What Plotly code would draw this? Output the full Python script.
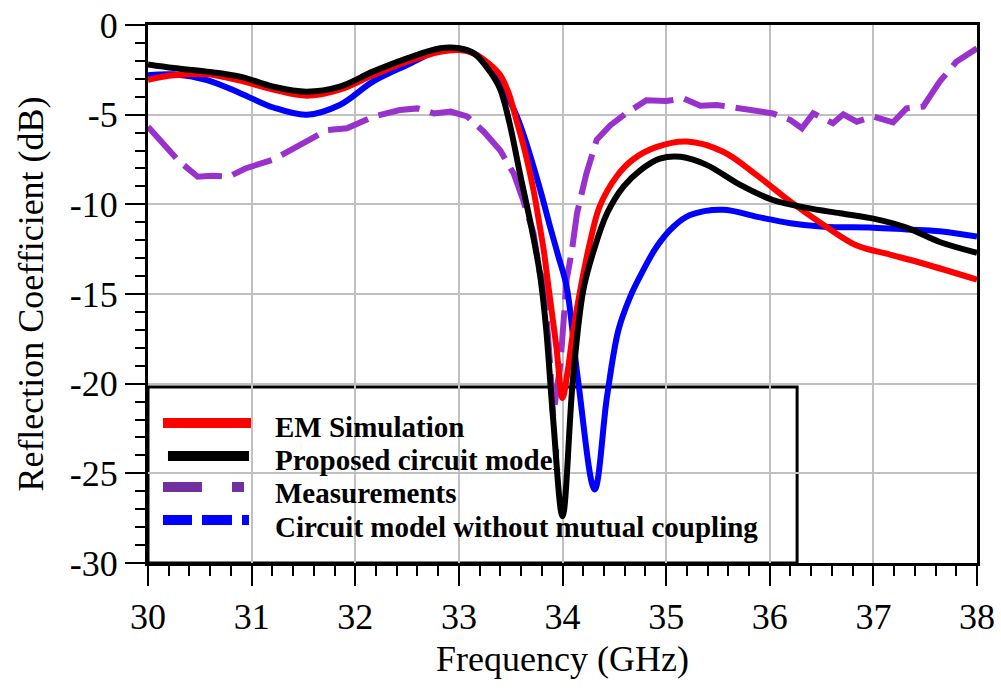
import plotly.graph_objects as go

# ---------------- data ----------------
em_f = [30.0, 30.25, 30.57, 30.89, 31.21, 31.53, 31.85, 32.17, 32.5, 32.82, 33.0, 33.15, 33.3, 33.4,
        33.48, 33.56, 33.64, 33.72, 33.78, 33.82, 33.86, 33.94, 34.0, 34.05, 34.1, 34.19, 34.27, 34.36,
        34.52, 34.68, 34.91, 35.2, 35.55, 35.88, 36.2, 36.52, 36.84, 37.16, 37.48, 38.0]
em_db = [-3.05, -2.8, -2.75, -3.1, -3.6, -3.94, -3.6, -2.8, -2.05, -1.5, -1.4, -1.6, -2.2, -2.8,
         -3.8, -5.4, -7.1, -9.2, -11.2, -12.6, -14.4, -17.9, -20.8, -19.3, -17.2, -14.2, -12.0, -10.1,
         -8.46, -7.5, -6.8, -6.5, -7.07, -8.4, -9.85, -11.15, -12.3, -12.8, -13.3, -14.2]

cm_f = [30.0, 30.25, 30.57, 30.89, 31.21, 31.53, 31.85, 32.17, 32.5, 32.82, 33.0, 33.15, 33.3, 33.4,
        33.49, 33.59, 33.69, 33.78, 33.84, 33.91, 34.0, 34.1, 34.2, 34.3, 34.43, 34.59, 34.75, 34.94,
        35.14, 35.39, 35.71, 36.03, 36.36, 36.68, 37.0, 37.32, 37.64, 38.0]
cm_db = [-2.2, -2.4, -2.6, -2.88, -3.44, -3.72, -3.44, -2.6, -1.86, -1.3, -1.3, -1.6, -2.6, -3.6,
         -5.5, -8.3, -11.0, -13.8, -16.8, -22.0, -27.4, -19.8, -14.8, -12.6, -10.5, -9.0, -8.1, -7.45,
         -7.35, -7.8, -8.9, -9.76, -10.2, -10.5, -10.8, -11.3, -12.1, -12.7]

ms_f = [30.0, 30.14, 30.3, 30.48, 30.62, 30.78, 30.94, 31.21, 31.44, 31.6, 31.73, 31.92, 32.18, 32.43,
        32.6, 32.76, 32.92, 33.08, 33.24, 33.4, 33.53, 33.62, 33.72, 33.78, 33.82, 33.88, 33.91, 33.98,
        34.04, 34.09, 34.14, 34.23, 34.33, 34.46, 34.62, 34.81, 35.0, 35.17, 35.33, 35.49, 35.71, 36.03,
        36.2, 36.31, 36.42, 36.61, 36.71, 36.84, 37.0, 37.19, 37.32, 37.48, 37.64, 37.8, 38.0]
ms_db = [-5.67, -6.6, -7.6, -8.46, -8.4, -8.46, -8.0, -7.5, -6.8, -6.3, -5.86, -5.76, -5.1, -4.74,
         -4.65, -4.93, -4.83, -5.1, -5.95, -7.0, -8.3, -9.76, -11.6, -13.8, -14.2, -18.9, -21.8, -18.9,
         -14.2, -12.6, -10.5, -8.3, -6.4, -5.6, -4.9, -4.2, -4.24, -4.1, -4.5, -4.46, -4.65, -4.93,
         -5.3, -5.76, -4.93, -5.48, -4.98, -5.39, -5.1, -5.43, -4.65, -4.55, -3.16, -2.05, -1.3]

nc_f = [30.0, 30.25, 30.57, 30.89, 31.21, 31.53, 31.85, 32.17, 32.5, 32.82, 32.98, 33.15, 33.3, 33.4,
        33.48, 33.56, 33.64, 33.72, 33.8, 33.88, 33.96, 34.04, 34.15, 34.31, 34.43, 34.54, 34.65, 34.75,
        34.91, 35.07, 35.23, 35.55, 35.88, 36.2, 36.52, 37.0, 37.32, 37.64, 38.0]
nc_db = [-2.8, -2.75, -3.07, -3.8, -4.6, -5.0, -4.46, -3.16, -2.23, -1.39, -1.3, -1.6, -2.4, -3.25,
         -4.1, -5.1, -6.4, -7.9, -9.5, -11.25, -12.9, -14.6, -19.8, -25.9, -20.7, -17.0, -15.2, -14.0,
         -12.35, -11.25, -10.6, -10.3, -10.7, -11.05, -11.25, -11.3, -11.4, -11.5, -11.8]

series_names = ["EM Simulation", "Proposed circuit model", "Measurements",
                "Circuit model without mutual coupling"]

x_tickvals = [30, 31, 32, 33, 34, 35, 36, 37, 38]
x_ticktext = ["30", "31", "32", "33", "34", "35", "36", "37", "38"]
y_tickvals = [0, -5, -10, -15, -20, -25, -30]
y_ticktext = ["0", "-5", "-10", "-15", "-20", "-25", "-30"]

# ---------------- figure ----------------
RED, BLACK, PURPLE, BLUE = "#FF0000", "#000000", "#9932CC", "#0000FF"
FONT = "Liberation Serif, Times New Roman, serif"

fig = go.Figure()
fig.add_trace(go.Scatter(x=ms_f, y=ms_db, mode="lines", name=series_names[2],
                         line=dict(color=PURPLE, width=6, dash="42px,11px")))
fig.add_trace(go.Scatter(x=nc_f, y=nc_db, mode="lines", name=series_names[3],
                         line=dict(color=BLUE, width=6, shape="spline", smoothing=1.0)))
fig.add_trace(go.Scatter(x=em_f, y=em_db, mode="lines", name=series_names[0],
                         line=dict(color=RED, width=6, shape="spline", smoothing=1.0)))
fig.add_trace(go.Scatter(x=cm_f, y=cm_db, mode="lines", name=series_names[1],
                         line=dict(color=BLACK, width=6, shape="spline", smoothing=1.0)))

axis_common = dict(showgrid=True, gridcolor="#C0C0C0", gridwidth=1.5,
                   showline=True, linecolor="black", linewidth=3, mirror=True,
                   ticks="outside", ticklen=20, tickwidth=2, tickcolor="black",
                   zeroline=False, automargin=False,
                   tickfont=dict(family=FONT, size=36, color="black"))

fig.update_xaxes(range=[30, 38], tickmode="array", tickvals=x_tickvals, ticktext=x_ticktext,
                 minor=dict(dtick=0.2, ticks="outside", ticklen=10, tickwidth=2, tickcolor="black",
                            showgrid=False),
                 title=dict(text="Frequency (GHz)", font=dict(family=FONT, size=36, color="black"),
                            standoff=10),
                 **axis_common)
fig.update_yaxes(range=[-30, 0], tickmode="array", tickvals=y_tickvals, ticktext=y_ticktext,
                 minor=dict(dtick=1, ticks="outside", ticklen=10, tickwidth=2, tickcolor="black",
                            showgrid=False),
                 title=dict(text="Reflection Coefficient (dB)",
                            font=dict(family=FONT, size=36, color="black"), standoff=16),
                 **axis_common)

# custom legend (box under the curves, like the reference)
shapes = [dict(type="rect", xref="paper", yref="paper", x0=0, x1=0.783, y0=0, y1=0.327,
               line=dict(color="black", width=3), fillcolor="rgba(0,0,0,0)", layer="between")]
leg_rows = [
    (0.2602, RED, [(0.0181, 0.1255)]),
    (0.1989, BLACK, [(0.0241, 0.1218)]),
    (0.1413, "#7030A0", [(0.0181, 0.0651), (0.1013, 0.1158)]),
    (0.0799, BLUE, [(0.0181, 0.0531), (0.0651, 0.1013), (0.1134, 0.1218)]),
]
for yy, col, segs in leg_rows:
    for a, b in segs:
        shapes.append(dict(type="line", xref="paper", yref="paper", x0=a, x1=b, y0=yy, y1=yy,
                           line=dict(color=col, width=10), layer="between"))

text_y = [0.2528, 0.1914, 0.1301, 0.0669]
annotations = []
for name, ty in zip(series_names, text_y):
    annotations.append(dict(xref="paper", yref="paper", x=0.1508, y=ty, xanchor="left",
                            yanchor="middle", showarrow=False, text="<b>%s</b>" % name,
                            font=dict(family=FONT, size=29, color="black")))

fig.update_layout(width=1001, height=696, margin=dict(l=148, r=24, t=25, b=133),
                  paper_bgcolor="white", plot_bgcolor="white", showlegend=False,
                  shapes=shapes, annotations=annotations)

fig.write_html("out.html")
